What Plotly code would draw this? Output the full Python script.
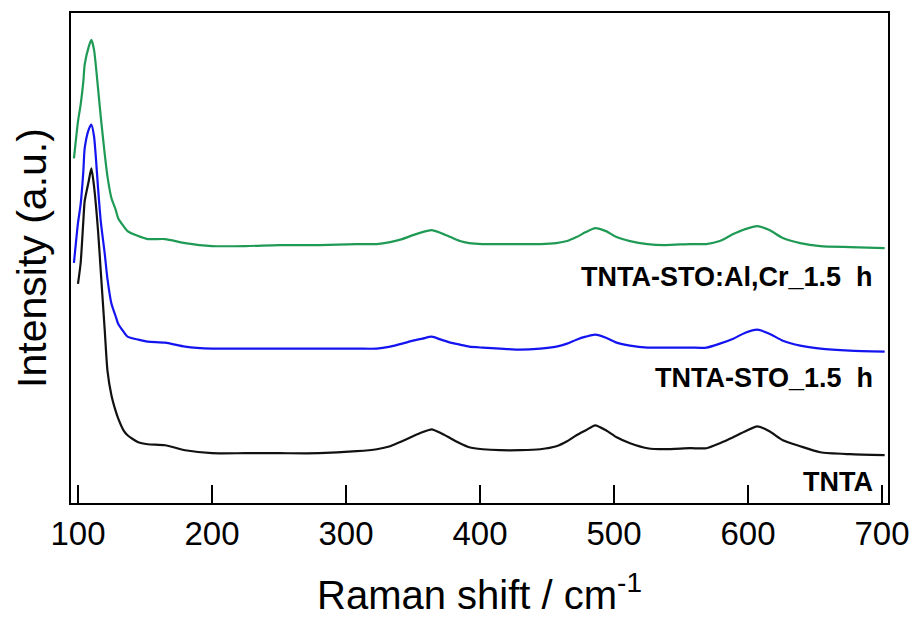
import plotly.graph_objects as go

wavenumber = [97, 100, 102, 104, 105, 108, 110, 112, 115, 117, 120, 122, 125, 128, 130, 134, 137, 145, 152, 165,
              180, 200, 225, 250, 280, 308, 323, 333, 342, 350, 357, 364, 371, 378, 385, 392, 402, 415, 430, 445,
              457, 465, 472, 479, 486, 494, 502, 512, 525, 538, 557, 569, 579, 589, 598, 607, 616, 626, 639, 654,
              676, 702]

tnta_sto_alcr = [346, 383, 400, 423, 440, 458, 465, 455, 416, 388, 350, 328, 306, 295, 286, 278, 273, 268, 265, 265,
                 261, 258, 258, 259, 259, 260, 260, 262, 265, 269, 272, 274, 271, 267, 263, 261, 260, 260, 260, 260,
                 261, 263, 267, 272, 276, 273, 267, 263, 260, 259, 260, 260, 263, 270, 275, 278, 274, 266, 261, 258,
                 257, 256]

tnta_sto = [241, 281, 300, 333, 356, 375, 380, 368, 316, 283, 250, 225, 200, 188, 180, 172, 167, 164, 162, 161,
            157, 155, 155, 155, 155, 155, 155, 157, 160, 163, 165, 167, 164, 161, 159, 157, 156, 155, 154, 155,
            157, 160, 164, 167, 169, 166, 161, 158, 156, 156, 156, 156, 160, 165, 171, 174, 170, 163, 158, 155,
            153, 152]

tnta = [None, 220, 241, 283, 303, 323, 336, 318, 273, 233, 173, 133, 108, 93, 85, 73, 68, 61, 59, 58,
        53, 50, 50, 50, 50, 52, 54, 57, 62, 67, 71, 74, 70, 65, 60, 56, 54, 53, 53, 54,
        57, 62, 68, 73, 78, 73, 66, 60, 55, 54, 55, 55, 60, 66, 72, 77, 72, 63, 57, 51,
        49, 48]

series_names = ["TNTA-STO:Al,Cr_1.5  h", "TNTA-STO_1.5  h", "TNTA"]
series_colors = ["#1f9a55", "#1414f0", "#111111"]
label_y = [227, 126, 21]

tick_vals = [100, 200, 300, 400, 500, 600, 700]

FONT = "Liberation Sans, Arial, sans-serif"

fig = go.Figure()
for name, vals, col in zip(series_names, [tnta_sto_alcr, tnta_sto, tnta], series_colors):
    fig.add_trace(go.Scatter(x=wavenumber, y=vals, mode="lines", name=name,
                             line=dict(color=col, width=2.2, shape="spline", smoothing=0.6),
                             connectgaps=False))

for name, ly in zip(series_names, label_y):
    fig.add_annotation(x=694.8, y=ly, xref="x", yref="y", text="<b>" + name.replace("  ", "&nbsp;&nbsp;") + "</b>",
                       showarrow=False, xanchor="right", yanchor="middle",
                       font=dict(family=FONT, size=27, color="black"))

fig.update_layout(
    width=923, height=626,
    margin=dict(l=71, r=35, t=11, b=123),
    paper_bgcolor="white", plot_bgcolor="white",
    showlegend=False,
    font=dict(family=FONT, color="black"),
)
fig.update_xaxes(range=[94.8, 704.5], tickvals=tick_vals, ticks="inside", ticklen=18, tickwidth=2,
                 tickcolor="black", showline=True, linecolor="black", linewidth=2, mirror=True,
                 showgrid=False, zeroline=False, tickfont=dict(family=FONT, size=33),
                 title=dict(text="Raman shift / cm<sup>-1</sup>", font=dict(family=FONT, size=40), standoff=30))
fig.update_yaxes(range=[0, 492], showticklabels=False, ticks="", showline=True, linecolor="black",
                 linewidth=2, mirror=True, showgrid=False, zeroline=False,
                 title=dict(text="Intensity (a.u.)", font=dict(family=FONT, size=41), standoff=10))

fig.write_html("out.html")
